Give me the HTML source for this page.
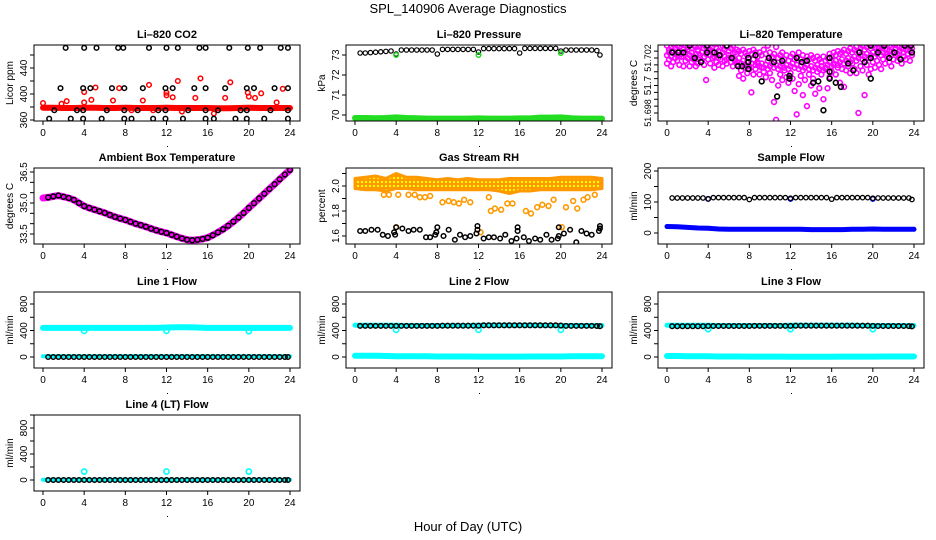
<!DOCTYPE html>
<html><head><meta charset="utf-8"><style>
html,body{margin:0;padding:0;background:#fff;}
svg{display:block;font-family:"Liberation Sans",Arial,sans-serif;}
</style></head><body>
<svg id="chart" width="936" height="540" viewBox="0 0 936 540" xmlns="http://www.w3.org/2000/svg">
<defs>
<pattern id="rhpat" width="4" height="4" patternUnits="userSpaceOnUse"><rect width="4" height="4" fill="#ff9900"/><rect x="1" y="1" width="2" height="2" fill="#ffff00"/></pattern>
</defs>
<text x="468" y="13" text-anchor="middle" font-size="13">SPL_140906  Average Diagnostics</text>
<text x="468" y="531" text-anchor="middle" font-size="13">Hour of Day (UTC)</text>
</svg>
<script>
// ---------- data ----------
const xTicks = [0,4,8,12,16,20,24];
const halfHours = [0.5,1,1.5,2,2.5,3,3.5,4,4.5,5,5.5,6,6.5,7,7.5,8,8.5,9,9.5,10,10.5,11,11.5,12,12.5,13,13.5,14,14.5,15,15.5,16,16.5,17,17.5,18,18.5,19,19.5,20,20.5,21,21.5,22,22.5,23,23.5,23.8];
const bandHours = [0,1,2,3,4,5,6,7,8,9,10,11,12,13,14,15,16,17,18,19,20,21,22,23,24];
const calHours = [4,12,20];

// CO2
const co2Band = [379,379,378.5,378.5,379,379,378.5,378.5,379,378.5,378.5,378.5,379,378.5,378.5,378.5,378.5,378,378,378.5,379,378.5,378.5,378.5,378.5];
const co2RedH = [0,1.8,2.3,4,4,4.7,5.1,6.8,7.4,9.7,10.3,12,12,12.6,13.1,14.8,15.3,17.7,18.2,19.9,20,20.6,21.2,22.7,23.3,13.5,16.6,8.6,10.7];
const co2RedV = [386,385,389,403,387,391,410,390,409,390,414,402,398,395,420,394,424,394,418,402,396,394,401,387,408,373,370,375,375];
const co2BlkH = [2.2,4,5.2,7.3,7.8,10.3,12,13.1,15.2,15.8,18.1,19.9,21.1,23.1,23.8, 1.7,3.9,4.6,6.7,7.9,9.7,11.9,12.6,14.7,15.8,17.7,19.8,20.5,22.5,23.8, 1.1,3.3,3.9,6.2,7.9,9.2,11.2,11.9,14.1,15.8,17,19.2,19.8,22.1,23.8, 0.6,2.7,3.9,5.7,7.9,8.6,10.7,11.9,13.6,15.8,16.6,18.7,19.8,21.5,23.8];
const co2BlkV = [471,471,471,471,471,471,471,471,471,471,471,471,471,471,471, 409,409,409,409,409,409,409,409,409,409,409,409,409,409,409, 375,375,375,375,375,375,375,375,375,375,375,375,375,375,375, 362,362,362,362,362,362,362,362,362,362,362,362,362,362,362];

// Pressure
const pressBlk = [73.1,73.1,73.12,73.14,73.16,73.18,73.2,73.05,73.25,73.25,73.25,73.25,73.25,73.25,73.25,73.05,73.28,73.28,73.28,73.28,73.28,73.28,73.28,73.15,73.32,73.32,73.32,73.32,73.32,73.32,73.32,73.1,73.33,73.33,73.33,73.33,73.33,73.33,73.33,73.2,73.25,73.25,73.25,73.25,73.25,73.25,73.22,73.0];
const pressGreen = [69.85,69.85,69.84,69.85,69.88,69.85,69.84,69.82,69.82,69.82,69.82,69.82,69.83,69.82,69.82,69.82,69.83,69.83,69.87,69.87,69.88,69.84,69.82,69.82,69.82];
const pressCal = [73.0,73.0,73.1];

// Li-820 temperature
const tMagH = [0,0.2,0.4,0.6,0.8,1,1.2,1.4,1.6,1.8,2,2.2,2.4,2.6,2.8,3,3.2,3.4,3.6,3.8,4,4.2,4.4,4.6,4.8,5,5.2,5.4,5.6,5.8,6,6.2,6.4,6.6,6.8,7,7.2,7.4,7.6,7.8,8,8.2,8.4,8.6,8.8,9,9.2,9.4,9.6,9.8,10,10.2,10.4,10.6,10.8,11,11.2,11.4,11.6,11.8,12,12.2,12.4,12.6,12.8,13,13.2,13.4,13.6,13.8,14,14.2,14.4,14.6,14.8,15,15.2,15.4,15.6,15.8,16,16.2,16.4,16.6,16.8,17,17.2,17.4,17.6,17.8,18,18.2,18.4,18.6,18.8,19,19.2,19.4,19.6,19.8,20,20.2,20.4,20.6,20.8,21,21.2,21.4,21.6,21.8,22,22.2,22.4,22.6,22.8,23,23.2,23.4,23.6,23.8];
const tMagA = [51.7029,51.7026,51.7028,51.703,51.7027,51.7029,51.7028,51.703,51.7026,51.7029,51.7028,51.703,51.7027,51.7029,51.7028,51.7026,51.7029,51.703,51.7027,51.7028,51.7029,51.7026,51.7028,51.703,51.7027,51.7025,51.7028,51.7029,51.7026,51.7028,51.7025,51.7027,51.7029,51.7024,51.7026,51.7025,51.7023,51.7026,51.7024,51.7022,51.7025,51.7023,51.7026,51.7024,51.7021,51.7024,51.7022,51.7026,51.7023,51.7029,51.7024,51.7021,51.7023,51.7028,51.702,51.7022,51.7024,51.7019,51.7022,51.7018,51.7021,51.7023,51.7019,51.7021,51.7024,51.7019,51.7022,51.7018,51.7021,51.7019,51.7022,51.702,51.7018,51.7021,51.7019,51.7017,51.7021,51.7018,51.702,51.7023,51.7021,51.7024,51.7022,51.7025,51.7023,51.7024,51.7026,51.7023,51.7025,51.7027,51.7024,51.7026,51.7028,51.7025,51.7027,51.7029,51.7026,51.7028,51.703,51.7027,51.7029,51.7028,51.703,51.7027,51.7029,51.7028,51.703,51.7026,51.7029,51.7028,51.703,51.7027,51.7029,51.7028,51.703,51.7027,51.7029,51.703,51.7028,51.703];
const tMagB = [51.7016,51.7019,51.7014,51.7017,51.702,51.7018,51.7015,51.7021,51.7014,51.7018,51.702,51.7014,51.7017,51.7019,51.7014,51.7016,51.702,51.7018,51.7015,51.7004,51.7019,51.7016,51.702,51.7013,51.7017,51.7015,51.7019,51.7014,51.7018,51.7016,51.702,51.7017,51.7014,51.7018,51.7015,51.7007,51.7011,51.7005,51.7013,51.7009,51.7012,51.6995,51.7008,51.7012,51.7016,51.7008,51.7013,51.701,51.7006,51.7012,51.7009,51.7004,51.6988,51.6975,51.7,51.7008,51.7004,51.7011,51.7006,51.7002,51.7009,51.7005,51.6996,51.6979,51.7001,51.7007,51.6993,51.7004,51.6985,51.7008,51.7,51.7005,51.6994,51.701,51.6998,51.7008,51.699,51.7012,51.6998,51.7006,51.701,51.7015,51.7008,51.7013,51.7002,51.7012,51.6999,51.7011,51.7014,51.7009,51.7016,51.7012,51.7009,51.698,51.7014,51.7011,51.6993,51.7015,51.7008,51.7012,51.7017,51.7013,51.7018,51.7015,51.7012,51.7019,51.7016,51.7021,51.7017,51.7014,51.7019,51.7022,51.7018,51.702,51.7016,51.7021,51.7019,51.7023,51.7018,51.7022,51.7021];
const tMagC = [51.7022,51.7024,51.7021,51.7025,51.7023,51.7022,51.7025,51.7023,51.7021,51.7024,51.7026,51.7022,51.7024,51.7021,51.7023,51.7025,51.7022,51.7024,51.7021,51.7023,51.7025,51.7022,51.7024,51.7021,51.7023,51.702,51.7022,51.7024,51.7021,51.7019,51.7022,51.702,51.7023,51.7019,51.7017,51.702,51.7016,51.7018,51.7015,51.7017,51.7014,51.7016,51.7019,51.7015,51.7017,51.7014,51.7016,51.7013,51.7015,51.7018,51.7014,51.7016,51.7013,51.7015,51.7012,51.7014,51.7016,51.7013,51.7015,51.7012,51.7014,51.7016,51.7013,51.7015,51.7012,51.7014,51.7011,51.7013,51.7015,51.7012,51.7014,51.7011,51.7013,51.7015,51.7012,51.7014,51.7011,51.7013,51.7015,51.7017,51.7014,51.7016,51.7018,51.7015,51.7017,51.7019,51.7016,51.7018,51.702,51.7017,51.7019,51.7021,51.7018,51.702,51.7022,51.7019,51.7021,51.7023,51.702,51.7022,51.7024,51.7021,51.7023,51.7025,51.7022,51.7024,51.7026,51.7023,51.7025,51.7022,51.7024,51.7026,51.7023,51.7025,51.7027,51.7024,51.7026,51.7023,51.7025,51.7027,51.7026];
const tBlkH = [0.5,1.1,1.6,2.2,2.7,3.3,3.9,3.9,4.6,5.1,5.8,6.3,6.9,7.3,7.9,7.9,7.9,8.6,9.2,9.9,10.4,10.7,11.2,11.9,11.9,12.6,13.1,13.6,14.2,14.7,15.2,15.8,15.8,15.8,16.4,16.9,17.6,18.1,18.7,19.2,19.8,19.8,19.8,20.5,21.1,21.6,22.1,22.7,23.1,23.7,23.8];
const tBlkV = [51.7024,51.7024,51.7024,51.7029,51.702,51.7017,51.7029,51.7024,51.7024,51.7022,51.7029,51.702,51.7014,51.7014,51.702,51.7017,51.7012,51.7022,51.7003,51.702,51.7017,51.6992,51.7018,51.7007,51.7005,51.702,51.7017,51.7018,51.7002,51.7003,51.6982,51.702,51.701,51.7005,51.7002,51.6999,51.7016,51.7011,51.7024,51.7017,51.7029,51.702,51.7005,51.7024,51.7029,51.702,51.7024,51.7019,51.7029,51.7029,51.7024];

// Ambient box temperature
const ambH = [0,0.5,1,1.5,2,2.5,3,3.5,4,4.5,5,5.5,6,6.5,7,7.5,8,8.5,9,9.5,10,10.5,11,11.5,12,12.5,13,13.5,14,14.5,15,15.5,16,16.5,17,17.5,18,18.5,19,19.5,20,20.5,21,21.5,22,22.5,23,23.5,24];
const ambV = [35.24,35.27,35.32,35.36,35.3,35.24,35.15,35.0,34.85,34.76,34.68,34.6,34.52,34.42,34.33,34.25,34.18,34.09,34.0,33.93,33.85,33.76,33.68,33.61,33.55,33.46,33.37,33.29,33.22,33.2,33.22,33.26,33.32,33.44,33.58,33.73,33.9,34.1,34.3,34.52,34.76,34.99,35.22,35.45,35.68,35.91,36.15,36.38,36.6];

// Gas stream RH
const rhTop = [2.06,2.07,2.08,2.06,2.1,2.07,2.07,2.06,2.05,2.06,2.05,2.06,2.05,2.05,2.05,2.06,2.06,2.06,2.06,2.06,2.07,2.07,2.07,2.07,2.06];
const rhBot = [1.98,1.97,1.97,1.96,1.98,1.98,1.97,1.97,1.97,1.97,1.97,1.97,1.97,1.97,1.96,1.94,1.96,1.96,1.97,1.97,1.97,1.97,1.97,1.97,1.98];
const rhOrH = [2.8,3.3,4.2,5.2,5.8,6.3,6.8,7.3,8.5,9.1,9.6,10.1,10.6,11.2,13,13.2,13.6,14.2,14.8,15.3,16.6,17.1,17.7,18.2,18.8,19.3,20.5,21.2,21.6,22.2,22.6,23.3,4.0,12.2,20.1];
const rhOrV = [1.93,1.93,1.93,1.93,1.93,1.91,1.91,1.92,1.87,1.88,1.87,1.86,1.89,1.87,1.91,1.8,1.82,1.81,1.86,1.86,1.8,1.78,1.83,1.85,1.84,1.89,1.83,1.88,1.82,1.89,1.91,1.93,1.67,1.63,1.67];
const rhBlkH = [0.5,1,1.6,2.2,2.7,3.2,3.8,3.9,4,4.6,5.2,5.7,6.3,6.9,7.3,7.8,7.9,8,8.6,9.1,9.7,10.2,10.7,11.2,11.8,11.9,11.9,12.5,13,13.5,14.1,14.6,15.2,15.7,15.8,15.8,16.4,16.9,17.5,18,18.6,19.1,19.7,19.8,19.8,20.3,20.9,21.5,22,22.5,23,23.7,23.8,23.8];
const rhBlkV = [1.64,1.64,1.65,1.65,1.61,1.6,1.63,1.61,1.67,1.66,1.64,1.65,1.65,1.59,1.59,1.61,1.63,1.67,1.6,1.65,1.57,1.61,1.59,1.6,1.62,1.65,1.68,1.58,1.59,1.59,1.58,1.61,1.56,1.58,1.64,1.67,1.59,1.56,1.58,1.57,1.61,1.57,1.58,1.6,1.67,1.62,1.65,1.55,1.64,1.62,1.61,1.64,1.66,1.68];

// Sample flow
const sfBlk = [113,113,113,113,113,113,113,110,114,114,114,114,114,114,114,108,114,114,114,114,114,114,114,112,114,114,114,114,114,114,114,109,114,114,114,114,114,114,114,112,113,113,113,113,113,113,113,108];
const sfBlue = [21,20,18,16,15,13,12,12,12,12,12,12,12,12,11,11,11,11,12,12,13,12,12,12,12];
const sfCal = [110,110,110];

// Line flows
const l1Cyan = [440,440,440,440,440,440,440,440,440,440,440,440,445,450,450,445,440,440,440,440,440,440,440,440,440];
const l1CyanLow = [10,10,10,10,10,10,10,10,10,10,10,10,10,10,10,10,10,10,10,10,10,10,10,10,10];
const l1Cal = [395,395,390];
const l1Blk = [0,0,0,0,0,0,0,0,0,0,0,0,0,0,0,0,0,0,0,0,0,0,0,0,0,0,0,0,0,0,0,0,0,0,0,0,0,0,0,0,0,0,0,0,0,0,0,0];
const l2Cyan = [480,478,478,478,478,476,476,476,476,476,476,476,478,478,478,478,478,478,478,476,476,476,476,474,474];
const l2CyanLow = [20,20,18,15,12,10,10,10,8,8,8,8,6,6,6,6,6,8,8,8,8,10,10,12,12];
const l2Cal = [410,410,410];
const l2Blk = [470,470,470,470,470,470,470,470,470,470,470,470,470,470,470,470,472,472,472,472,472,472,472,472,478,478,478,478,478,478,478,478,478,478,478,478,478,478,478,475,470,470,470,470,470,470,468,465];
const l3Cyan = [480,478,478,478,478,476,476,476,476,476,476,476,478,478,478,478,478,478,478,476,476,476,476,474,474];
const l3CyanLow = [15,15,12,10,10,8,8,8,6,6,6,6,5,5,5,5,5,6,6,6,6,8,8,8,8];
const l3Cal = [420,420,420];
const l3Blk = [465,465,465,465,465,465,465,468,468,468,468,468,468,468,468,468,470,470,470,470,470,470,470,470,472,472,472,472,472,472,472,472,472,472,472,472,472,472,472,470,468,468,468,468,468,468,466,462];
const l4CyanLow = [5,5,5,5,5,5,5,5,5,5,5,5,5,5,5,5,5,5,5,5,5,5,5,5,5];
const l4Cal = [130,130,130];
const l4Blk = [0,0,0,0,0,0,0,0,0,0,0,0,0,0,0,0,0,0,0,0,0,0,0,0,0,0,0,0,0,0,0,0,0,0,0,0,0,0,0,0,0,0,0,0,0,0,0,0];

// ---------- drawing ----------
const NS = 'http://www.w3.org/2000/svg';
const svg = document.getElementById('chart');
function mk(tag, attrs, parent){ const e=document.createElementNS(NS,tag); for(const k in attrs) e.setAttribute(k,attrs[k]); (parent||svg).appendChild(e); return e; }
const colOff=[0,312,624], rowTop=[45,168,292,415];
let clipN=0;
function panel(col,row,name,title,ylab,v1,p1,v2,p2,ticks,labels){
  const cx=colOff[col], top=rowTop[row], bot=top+76, left=cx+34, right=cx+300;
  const X=h=>cx+43+h*247/24;
  const Y=v=>p1+(v-v1)*(p2-p1)/(v2-v1);
  const g=mk('g',{});
  
  
  const t=mk('text',{x:(left+right)/2,y:top-7,'text-anchor':'middle','font-size':11,'font-weight':'bold'},g); t.textContent=title;
  
  
  const yl=mk('text',{x:0,y:0,'text-anchor':'middle','font-size':10,transform:`translate(${cx+13},${(top+bot)/2}) rotate(-90)`},g); yl.textContent=ylab;
  
  
  const id='clip'+(clipN++);
  const cp=mk('clipPath',{id:id},g); mk('rect',{x:left,y:top,width:right-left,height:bot-top},cp);
  const plot=mk('g',{'clip-path':`url(#${id})`},g);
  
  
  const xa=mk('g',{},g);
  
  
  xTicks.forEach(h=>{ mk('line',{x1:X(h),x2:X(h),y1:bot,y2:bot+4,stroke:'#000'},xa);
    const tl=mk('text',{x:X(h),y:bot+15,'text-anchor':'middle','font-size':10},xa); tl.textContent=h; });
  mk('rect',{x:(left+right)/2,y:bot+25,width:1,height:1,fill:'#000'},xa);
  const ya=mk('g',{},g);
  
  
  ticks.forEach((v,i)=>{ const y=Y(v); if(y<top-0.5||y>bot+0.5) return;
    mk('line',{x1:left-4,x2:left,y1:y,y2:y,stroke:'#000'},ya);
    if(labels[i]!==''){ const tl=mk('text',{x:0,y:0,'text-anchor':'middle','font-size':labels[i].length>4?9:10,transform:`translate(${left-7},${y}) rotate(-90)`},ya); tl.textContent=labels[i]; } });
  const box=mk('rect',{x:left,y:top,width:right-left,height:bot-top,fill:'none',stroke:'#000','stroke-width':1},g);
  
  
  return {X,Y,plot,name};
}
function pts(p,hs,vs,color,sname,r,sw){
  const g=mk('g',{},p.plot);
  
  
  hs.forEach((h,i)=>{ const c=mk('circle',{cx:p.X(h),cy:p.Y(vs[i]),r:r||2.3,fill:'none',stroke:color,'stroke-width':sw||1.5},g);
    
     });
}
function band(p,hs,vs,color,w,sname){
  const d=hs.map((h,i)=>p.X(h).toFixed(1)+','+p.Y(vs[i]).toFixed(1)).join(' ');
  const l=mk('polyline',{points:d,fill:'none',stroke:color,'stroke-width':w,'stroke-linecap':'round','stroke-linejoin':'round'},p.plot);
  
  
}
function area(p,hs,top,bot,fill,sname){
  const a=hs.map((h,i)=>p.X(h).toFixed(1)+','+p.Y(top[i]).toFixed(1));
  const b=hs.map((h,i)=>p.X(h).toFixed(1)+','+p.Y(bot[i]).toFixed(1)).reverse();
  const pg=mk('polygon',{points:a.concat(b).join(' '),fill:fill,stroke:'#ff9900','stroke-width':3,'stroke-linejoin':'round'},p.plot);
  
  
}

let p=panel(0,0,'co2','Li\u2013820 CO2','Licor ppm',360,120,440,68,[360,380,400,420,440,460],['360','','400','','440','']);
band(p,bandHours,co2Band,'#ff0000',6,'red-band');
pts(p,co2RedH,co2RedV,'#ff0000','red-points');
pts(p,co2BlkH,co2BlkV,'#000','black-points');

p=panel(1,0,'pressure','Li\u2013820 Pressure','kPa',70,115,73,55,[70,71,72,73],['70','71','72','73']);
band(p,bandHours,pressGreen,'#22dd22',6,'green-band');
pts(p,halfHours,pressBlk,'#000','black-points',2.2,1.2);
pts(p,calHours,pressCal,'#22dd22','green-cal-points');

p=panel(2,0,'li820-temp','Li\u2013820 Temperature','degrees C',51.698,113,51.702,58,[51.698,51.6985,51.699,51.6995,51.7,51.7005,51.701,51.7015,51.702,51.7025,51.703],['51.698','','','','51.7','','','','51.702','','']);
pts(p,tMagH,tMagA,'#ff00ff','magenta-upper-points',2.4,1.6);
pts(p,tMagH,tMagC,'#ff00ff','magenta-middle-points',2.4,1.6);
pts(p,tMagH,tMagB,'#ff00ff','magenta-lower-points',2.4,1.6);
pts(p,tBlkH,tBlkV,'#000','black-points',2.4,1.6);

p=panel(0,1,'ambient','Ambient Box Temperature','degrees C',33.5,234,36.5,172,[33.5,34,34.5,35,35.5,36,36.5],['33.5','','','35.0','','','36.5']);
band(p,ambH,ambV,'#ff00ff',7,'magenta-band');
pts(p,ambH.slice(1),ambV.slice(1),'#000','black-points',2.4,1.5);

p=panel(1,1,'rh','Gas Stream RH','percent',1.6,236,2.0,186,[1.6,1.7,1.8,1.9,2.0,2.1],['1.6','','1.8','','2.0','']);
area(p,bandHours,rhTop,rhBot,'url(#rhpat)','orange-band');
pts(p,rhOrH,rhOrV,'#ff9900','orange-points',2.4,1.6);
pts(p,rhBlkH,rhBlkV,'#000','black-points',2.3,1.5);

p=panel(2,1,'sample-flow','Sample Flow','ml/min',0,233,200,171,[0,50,100,150,200],['0','','100','','200']);
band(p,bandHours,sfBlue,'#0000ff',5,'blue-band');
pts(p,calHours,sfCal,'#0000ff','blue-cal-points');
pts(p,halfHours,sfBlk,'#000','black-points',2.2,1.3);

p=panel(0,2,'line1','Line 1 Flow','ml/min',0,357,800,304,[-200,0,200,400,600,800,1000],['','0','','400','','800','']);
band(p,bandHours,l1Cyan,'#00ffff',6,'cyan-band');
band(p,bandHours,l1CyanLow,'#00ffff',4,'cyan-low-band');
pts(p,calHours,l1Cal,'#00ffff','cyan-cal-points',2.6,1.6);
pts(p,halfHours,l1Blk,'#000','black-points',2.3,1.5);

p=panel(1,2,'line2','Line 2 Flow','ml/min',0,357,800,304,[-200,0,200,400,600,800,1000],['','0','','400','','800','']);
band(p,bandHours,l2Cyan,'#00ffff',5,'cyan-band');
band(p,bandHours,l2CyanLow,'#00ffff',6,'cyan-low-band');
pts(p,calHours,l2Cal,'#00ffff','cyan-cal-points',2.6,1.6);
pts(p,halfHours,l2Blk,'#000','black-points',2.3,1.5);

p=panel(2,2,'line3','Line 3 Flow','ml/min',0,357,800,304,[-200,0,200,400,600,800,1000],['','0','','400','','800','']);
band(p,bandHours,l3Cyan,'#00ffff',5,'cyan-band');
band(p,bandHours,l3CyanLow,'#00ffff',6,'cyan-low-band');
pts(p,calHours,l3Cal,'#00ffff','cyan-cal-points',2.6,1.6);
pts(p,halfHours,l3Blk,'#000','black-points',2.3,1.5);

p=panel(0,3,'line4','Line 4 (LT) Flow','ml/min',0,480,800,428,[-200,0,200,400,600,800,1000],['','0','','400','','800','']);
band(p,bandHours,l4CyanLow,'#00ffff',4,'cyan-low-band');
pts(p,calHours,l4Cal,'#00ffff','cyan-cal-points',2.6,1.6);
pts(p,halfHours,l4Blk,'#000','black-points',2.3,1.5);
</script>
</body></html>
